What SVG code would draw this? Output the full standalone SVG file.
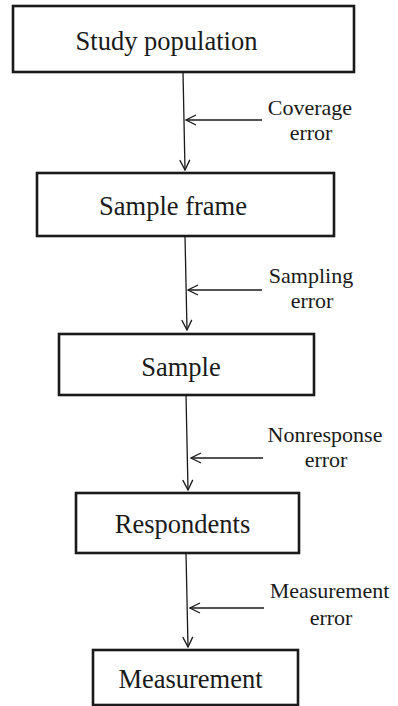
<svg xmlns="http://www.w3.org/2000/svg" width="398" height="706" viewBox="0 0 398 706">
<style>
.box{fill:#fff;stroke:#1a1a1a;stroke-width:2.6}
.main{font-family:"Liberation Serif","Times New Roman",serif;font-size:26.5px;fill:#1a1a1a;text-anchor:middle}
.lab{font-family:"Liberation Serif","Times New Roman",serif;font-size:22px;fill:#1a1a1a;text-anchor:middle}
.conn{fill:none;stroke:#1a1a1a;stroke-width:1.3;marker-end:url(#arr)}
</style>
<defs>
<marker id="arr" viewBox="0 0 12 12" refX="11" refY="6" markerWidth="12" markerHeight="12" markerUnits="userSpaceOnUse" orient="auto">
<path d="M1,1 L11,6 L1,11" fill="none" stroke="#1a1a1a" stroke-width="1.3"/>
</marker>
</defs>
<rect width="398" height="706" fill="#fff"/>
<g id="connectors">
<line class="conn" x1="183" y1="72" x2="185" y2="170"/>
<line class="conn" x1="262" y1="120" x2="186" y2="120"/>
<line class="conn" x1="185" y1="236" x2="187" y2="330"/>
<line class="conn" x1="262" y1="290" x2="188" y2="290"/>
<line class="conn" x1="186" y1="395" x2="188" y2="490"/>
<line class="conn" x1="263" y1="458" x2="191" y2="458"/>
<line class="conn" x1="186" y1="553" x2="188" y2="647"/>
<line class="conn" x1="264" y1="608" x2="190" y2="608"/>
</g>
<g id="study-population">
<rect class="box" x="13" y="6" width="341" height="66"/>
<text class="main" x="166.5" y="50">Study population</text>
</g>
<g id="sample-frame">
<rect class="box" x="37" y="173" width="297" height="63"/>
<text class="main" x="173" y="215">Sample frame</text>
</g>
<g id="sample">
<rect class="box" x="59" y="334" width="255" height="61"/>
<text class="main" x="181" y="376">Sample</text>
</g>
<g id="respondents">
<rect class="box" x="76" y="493" width="223" height="60"/>
<text class="main" x="182.5" y="533">Respondents</text>
</g>
<g id="measurement">
<rect class="box" x="93" y="650" width="205" height="55"/>
<text class="main" x="190.5" y="688">Measurement</text>
</g>
<g id="labels">
<text class="lab" x="310" y="115">Coverage</text>
<text class="lab" x="311" y="140">error</text>
<text class="lab" x="311" y="283">Sampling</text>
<text class="lab" x="312" y="308">error</text>
<text class="lab" x="325" y="442">Nonresponse</text>
<text class="lab" x="326" y="467">error</text>
<text class="lab" x="329.5" y="598">Measurement</text>
<text class="lab" x="331" y="625">error</text>
</g>
</svg>
